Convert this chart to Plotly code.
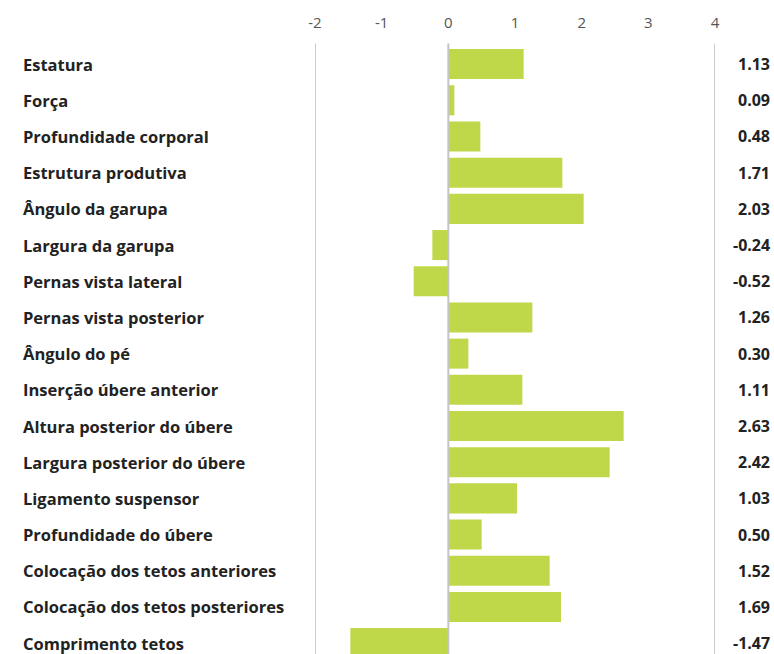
import plotly.graph_objects as go

categories = ["Estatura", "Força", "Profundidade corporal", "Estrutura produtiva",
              "Ângulo da garupa", "Largura da garupa", "Pernas vista lateral",
              "Pernas vista posterior", "Ângulo do pé", "Inserção úbere anterior",
              "Altura posterior do úbere", "Largura posterior do úbere",
              "Ligamento suspensor", "Profundidade do úbere",
              "Colocação dos tetos anteriores", "Colocação dos tetos posteriores",
              "Comprimento tetos"]
values = [1.13, 0.09, 0.48, 1.71, 2.03, -0.24, -0.52, 1.26, 0.30, 1.11,
          2.63, 2.42, 1.03, 0.50, 1.52, 1.69, -1.47]
tick_vals = [-2, -1, 0, 1, 2, 3, 4]

W, H = 774, 654
L, R, T, B = 315, 774 - 715, 46, 0
FONT = "Open Sans, sans-serif"

idx = list(range(len(categories)))
fig = go.Figure(go.Bar(
    x=values, y=idx, orientation="h",
    marker=dict(color="#bfd849", line=dict(width=0)),
    width=0.83, hoverinfo="x+text", text=categories, textposition="none",
))

pw = W - L - R
ann = []
for i, (c, v) in enumerate(zip(categories, values)):
    ann.append(dict(x=(21 - L) / pw, xref="paper", y=i, yref="y",
                    text="<b>%s</b>" % c, showarrow=False, xanchor="left",
                    font=dict(family=FONT, size=16.5, color="#222222")))
    ann.append(dict(x=(772 - L) / pw, xref="paper", y=i, yref="y",
                    text="<b>%.2f</b>" % v, showarrow=False, xanchor="right",
                    font=dict(family=FONT, size=16, color="#222222")))

shapes = []
for xv in [-2, 4]:
    shapes.append(dict(type="line", xref="x", yref="paper", x0=xv, x1=xv,
                       y0=0, y1=1.004, line=dict(color="#cccccc", width=2), layer="below"))
shapes.append(dict(type="line", xref="x", yref="paper", x0=0, x1=0,
                   y0=0, y1=1.004, line=dict(color="#c4c4c4", width=2), layer="above"))

fig.update_layout(
    width=W, height=H,
    margin=dict(l=L, r=R, t=T, b=B),
    paper_bgcolor="white", plot_bgcolor="white",
    showlegend=False,
    xaxis=dict(side="top", range=[-2, 4], tickvals=tick_vals,
               ticktext=[str(t) for t in tick_vals],
               showgrid=False, zeroline=False, showline=False,
               ticks="", ticklabelstandoff=14,
               tickfont=dict(family=FONT, size=15, color="#555555"),
               fixedrange=True),
    yaxis=dict(range=[16.3, -0.5], showticklabels=False, showgrid=False,
               zeroline=False, showline=False, fixedrange=True),
    annotations=ann, shapes=shapes,
)
fig.write_html(
    "out.html",
    config={"displayModeBar": False},
    post_script="document.body.style.margin='0';document.body.style.overflow='hidden';",
)
